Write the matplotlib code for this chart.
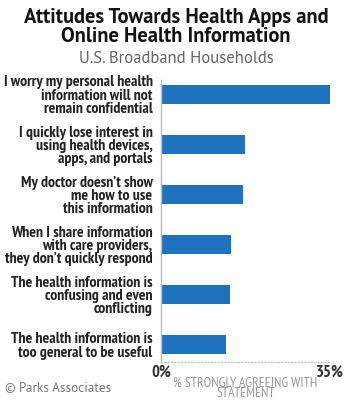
import matplotlib.pyplot as plt
import numpy as np

# ---------- Data ----------
labels = [
    "I worry my personal health\ninformation will not\nremain confidential",
    "I quickly lose interest in\nusing health devices,\napps, and portals",
    "My doctor doesn\u2019t show\nme how to use\nthis information",
    "When I share information\nwith care providers,\nthey don\u2019t quickly respond",
    "The health information is\nconfusing and even\nconflicting",
    "The health information is\ntoo general to be useful",
]
values = [35.0, 17.4, 16.9, 14.5, 14.4, 13.5]
tick_vals = [0, 35]
tick_labels = ["0%", "35%"]

narrow = ["PT Sans Narrow", "DejaVu Sans"]
sans = ["PT Sans", "DejaVu Sans"]
plt.rcParams['font.family'] = narrow

fig = plt.figure(figsize=(3.52, 4.01), dpi=100)
ax = fig.add_axes([0.457, 0.0973, 0.4805, 0.7032])

y = np.arange(len(values))
ax.barh(y, values, height=0.38, color="#1f73be")
ax.set_ylim(5.34, -0.29)
ax.set_xlim(0, 35)

ax.set_yticks(y)
ax.set_yticklabels(labels, fontsize=11.3, fontweight="bold", color="#222222",
                   linespacing=0.92)
ax.tick_params(axis="y", length=0, pad=6)
ax.set_xticks(tick_vals)
ax.set_xticklabels(tick_labels, fontsize=12, fontweight="bold", color="#333333")
ax.tick_params(axis="x", length=0, pad=2)

for s in ["top", "right"]:
    ax.spines[s].set_visible(False)
ax.spines["left"].set_color("#bbbbbb")
ax.spines["left"].set_linewidth(1)
ax.spines["bottom"].set_color("#bbbbbb")
ax.spines["bottom"].set_linestyle((0, (1, 2)))

ax.set_xlabel("% STRONGLY AGREEING WITH\nSTATEMENT", fontsize=10, color="#999999",
              linespacing=0.75, labelpad=-3)

fig.text(0.5, 0.98, "Attitudes Towards Health Apps and\nOnline Health Information",
         ha="center", va="top", fontsize=14.8, fontweight="bold", color="#111111",
         family=sans, linespacing=0.98)
fig.text(0.5, 0.853, "U.S. Broadband Households", ha="center", va="center",
         fontsize=12, color="#666666", family=sans)
fig.text(0.015, 0.034, "\u00a9 Parks Associates", ha="left", va="center",
         fontsize=9.5, color="#777777", family=sans)

fig.savefig("out.png", dpi=100)
